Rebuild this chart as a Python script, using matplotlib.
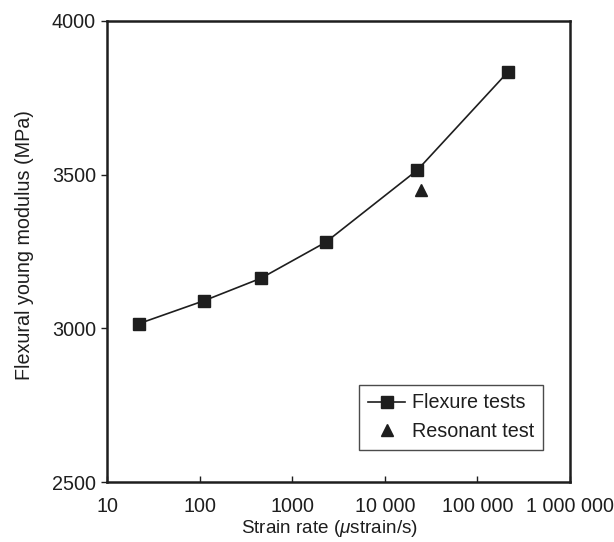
import matplotlib
matplotlib.use("Agg")
import matplotlib.pyplot as plt
from matplotlib.ticker import FixedLocator, FixedFormatter, NullLocator

plt.rcParams['font.family'] = ['Liberation Sans', 'DejaVu Sans']
plt.rcParams['mathtext.fontset'] = 'custom'
plt.rcParams['mathtext.it'] = 'Liberation Sans:italic'
plt.rcParams['mathtext.rm'] = 'Liberation Sans'

# Data
flex_rate = [22, 112, 460, 2300, 22500, 215000]
flex_mod = [3015, 3090, 3163, 3280, 3515, 3835]
res_rate = [24500]
res_mod = [3450]

xtick_vals = [10, 100, 1000, 10000, 100000, 1000000]
xtick_labels = ['10', '100', '1000', '10 000', '100 000', '1 000 000']
ytick_vals = [2500, 3000, 3500, 4000]

fig = plt.figure(figsize=(6.14, 5.42), dpi=100)
ax = fig.add_axes([0.1743, 0.1107, 0.754, 0.8506])

c = '#1e1e1e'
fs = 14.2
ax.plot(flex_rate, flex_mod, '-', color=c, lw=1.2, marker='s', ms=8,
        label='Flexure tests')
ax.plot(res_rate, res_mod, linestyle='none', color=c, marker='^', ms=8,
        label='Resonant test')

ax.set_xscale('log')
ax.set_xlim(10, 1000000)
ax.set_ylim(2500, 4000)
ax.xaxis.set_major_locator(FixedLocator(xtick_vals))
ax.xaxis.set_major_formatter(FixedFormatter(xtick_labels))
ax.xaxis.set_minor_locator(NullLocator())
ax.set_yticks(ytick_vals)

ax.tick_params(axis='x', direction='in', length=4, width=1, labelsize=fs, pad=11, colors=c)
ax.tick_params(axis='y', direction='out', length=4, width=1, labelsize=fs, pad=4, colors=c)
for s in ax.spines.values():
    s.set_linewidth(1.8)
    s.set_color(c)

ax.set_xlabel('Strain rate ($\\mathit{\\mu}$strain/s)', fontsize=13.6, color=c, labelpad=1)
ax.set_ylabel('Flexural young modulus (MPa)', fontsize=fs, color=c, labelpad=13)
ax.xaxis.label.set_x(0.48)
ax.yaxis.label.set_y(0.515)

leg = ax.legend(loc='lower right', bbox_to_anchor=(0.942, 0.069), borderaxespad=0,
                fontsize=fs, frameon=True, fancybox=False, edgecolor=c,
                handlelength=1.88, handletextpad=0.34, borderpad=0.45,
                labelspacing=0.5)
leg.get_frame().set_linewidth(1.0)
for t in leg.get_texts():
    t.set_color(c)

fig.savefig('out.png', dpi=100)
